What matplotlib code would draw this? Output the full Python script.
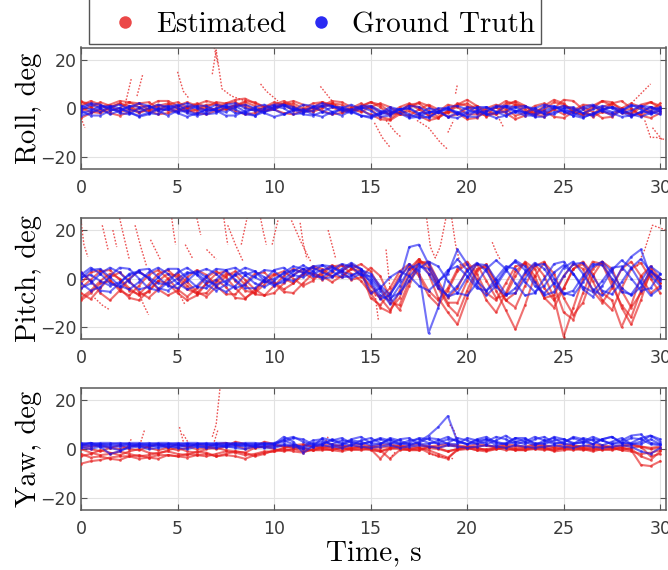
import numpy as np
import matplotlib
matplotlib.use("Agg")
import matplotlib.pyplot as plt
from matplotlib.lines import Line2D
from matplotlib.font_manager import FontProperties

# ---------------- data (degrees), sampled every 0.5 s from 0 to 30 s ----------------
SAMPLE_DT = 0.5

roll_gt = [
    [-0.5, 1.5, 0.0, -2.5, -1.0, 1.0, 0.5, -2.0, -2.5, 0.5,
     1.5, -1.0, -2.5, -0.5, 1.5, 0.5, -2.0, -2.0, 0.5, 1.5,
     -0.5, -2.5, -1.0, 1.5, 1.0, -1.5, -2.5, 0.0, 1.5, -0.5,
     -3.0, -2.0, 0.5, -0.5, -3.5, -2.5, 0.0, -1.0, -3.5, -2.0,
     0.5, 0.0, -2.5, -2.0, 1.0, 0.5, -2.0, -2.5, 0.5, 1.0,
     -1.5, -3.0, -0.5, 1.0, -1.0, -3.0, -1.0, 1.5, -0.5, -2.5, -1.0],
    [-2.0, -1.0, 1.0, 0.5, -2.0, -2.5, 0.0, 1.0, -1.0, -3.0,
     -1.0, 1.0, 0.0, -2.5, -2.0, 0.5, 1.0, -1.5, -3.0, -0.5,
     1.0, 0.0, -2.5, -2.0, 0.5, 1.0, -1.5, -3.0, -1.0, 0.5,
     -1.0, -3.5, -3.0, -0.5, 0.0, -2.5, -4.0, -1.5, 0.0, -2.0,
     -3.5, -1.0, 0.5, -1.5, -3.0, -1.5, 0.5, 0.0, -2.5, -2.5,
     0.0, 0.5, -2.0, -3.0, -0.5, 0.5, -1.5, -3.5, -1.5, 0.5, -0.5],
    [1.0, -0.5, -1.5, 0.5, 1.5, -0.5, -1.5, 0.0, 1.5, 0.5,
     -1.5, -1.0, 1.0, 1.0, -1.0, -1.5, 0.5, 1.5, 0.0, -1.5,
     -0.5, 1.5, 0.5, -1.5, -1.0, 1.0, 1.0, -1.0, -2.0, 0.0,
     0.5, -2.0, -2.5, -0.5, 0.0, -2.0, -2.0, 0.0, 0.0, -2.5,
     -1.5, 0.5, 0.5, -1.5, -1.5, 0.5, 1.0, -1.0, -2.0, 0.0,
     1.0, -0.5, -2.0, -0.5, 1.0, 0.0, -2.0, -1.0, 1.0, 0.5, -1.5],
    [-3.0, -2.0, 0.0, 1.0, 0.0, -2.0, -3.0, -2.0, 0.0, 1.0,
     0.0, -2.0, -3.0, -2.0, 0.0, 1.0, -0.5, -2.5, -3.0, -1.5,
     0.5, 1.0, -0.5, -2.5, -3.0, -1.5, 0.5, 0.5, -1.0, -3.0,
     -3.5, -2.0, -0.5, -0.5, -2.5, -4.0, -3.5, -1.5, -0.5, -1.5,
     -3.5, -3.5, -1.5, 0.5, 0.5, -1.5, -3.0, -3.0, -1.0, 0.5,
     0.0, -2.0, -3.5, -2.5, -0.5, 0.5, -0.5, -2.5, -3.5, -2.0, 0.0],
    [0.5, 2.0, 1.5, -0.5, -1.0, 0.5, 2.0, 1.0, -0.5, -0.5,
     1.0, 2.0, 0.5, -1.0, -0.5, 1.5, 2.0, 0.0, -1.0, 0.0,
     1.5, 1.5, -0.5, -1.0, 0.5, 2.0, 1.0, -0.5, -0.5, 1.0,
     1.0, -1.0, -2.0, -0.5, 1.0, 0.5, -1.5, -1.5, 0.5, 1.0,
     -0.5, -2.0, -1.0, 1.0, 1.0, -1.0, -2.0, 0.0, 1.5, 0.5,
     -1.0, -1.5, 0.5, 1.5, 0.0, -1.5, -1.0, 1.0, 1.0, -1.0, 0.5],
    [-1.0, -3.0, -3.0, -1.0, 0.0, -1.5, -3.5, -2.5, -0.5, -0.5,
     -2.0, -3.5, -2.0, -0.5, -1.0, -3.0, -3.0, -1.0, -0.5, -2.0,
     -3.5, -2.5, -0.5, -0.5, -2.5, -3.5, -1.5, -0.5, -1.5, -3.0,
     -4.0, -2.5, -1.0, -2.0, -4.0, -3.5, -1.5, -1.5, -3.5, -4.0,
     -2.0, -1.0, -2.5, -4.0, -3.0, -1.0, -1.5, -3.5, -3.5, -1.5,
     -1.0, -3.0, -4.0, -2.0, -1.0, -2.0, -3.5, -3.0, -1.5, -1.5, -2.5],
]

roll_est = [
    [1.0, 3.0, 1.5, -1.0, 0.0, 2.5, 2.0, -0.5, -1.0, 1.5,
     2.5, 0.5, -1.0, 0.5, 2.5, 2.0, 3.5, 4.0, 2.0, 0.5,
     1.5, 3.0, 1.0, -1.0, 0.5, 2.5, 1.5, -0.5, -1.0, 1.0,
     2.5, 0.5, -3.0, -1.5, 1.5, 2.0, -1.0, -3.5, -1.0, 2.0,
     1.0, -2.0, -3.0, 0.5, 3.0, 1.5, -1.5, -2.0, 1.0, 3.5,
     2.0, -1.5, -3.0, 0.0, 3.0, 2.5, -1.0, -2.5, 0.5, 2.5, 1.0],
    [-1.0, 0.5, 2.5, 1.0, -1.5, -0.5, 2.0, 2.5, 0.0, -1.0,
     1.0, 2.5, 1.0, -1.0, 0.0, 2.0, 2.5, 0.5, -1.0, 0.5,
     2.5, 1.5, -1.0, -0.5, 2.0, 2.5, 0.5, -1.5, 0.0, 2.0,
     -0.5, -3.5, -4.5, -1.5, 1.5, 0.5, -3.0, -4.0, -1.0, 1.5,
     3.5, 1.0, -2.5, -2.5, 1.0, 3.0, 1.0, -2.5, -3.5, 0.0,
     3.5, 3.0, -0.5, -3.5, -1.5, 2.0, 3.0, 0.0, -3.0, -1.0, 2.0],
    [2.5, 2.0, 0.5, 1.5, 3.0, 2.5, 0.5, 1.0, 3.0, 3.0,
     1.0, 0.0, 1.5, 3.0, 2.0, 0.5, 1.0, 3.0, 2.5, 0.5,
     0.0, 2.0, 3.0, 1.5, 0.0, 1.0, 3.0, 2.5, 0.5, 0.5,
     2.5, 1.5, -1.5, -2.5, 0.0, 2.5, 1.0, -2.0, -2.0, 1.0,
     2.0, -0.5, -3.5, -1.5, 2.0, 2.5, -0.5, -3.0, -0.5, 2.5,
     1.5, -1.5, -2.5, 1.0, 3.0, 1.0, -2.0, -2.0, 1.5, 2.5, 0.0],
    [-4.0, -2.0, -0.5, -2.0, -3.0, -1.5, 0.0, -1.0, -2.5, -2.0,
     -0.5, -0.5, -2.0, -2.5, -1.0, 0.0, -1.0, -2.5, -2.0, -0.5,
     -0.5, -2.0, -2.5, -1.0, 0.0, -1.0, -2.5, -2.0, -0.5, -1.0,
     -2.5, -4.5, -5.0, -2.5, -1.0, -3.0, -5.0, -4.0, -1.5, -2.0,
     -4.5, -4.0, -1.0, 0.5, -2.0, -4.5, -3.0, -0.5, -1.0, -3.5,
     -4.0, -1.5, 0.5, -1.5, -4.0, -3.5, -0.5, -0.5, -3.0, -4.0, -2.0],
    [0.0, -1.5, -2.0, 0.0, 2.0, 1.0, -1.5, -1.0, 1.0, 2.0,
     0.0, -1.5, -0.5, 1.5, 1.5, -0.5, 0.5, 2.5, 1.0, -1.0,
     -0.5, 1.5, 2.0, 0.0, -1.5, 0.0, 2.0, 1.5, -0.5, -1.5,
     0.5, 2.0, 0.5, -2.5, -3.0, -0.5, 1.5, -0.5, -3.5, -2.5,
     0.0, 1.0, -1.0, -2.5, -1.0, 1.5, 1.0, -1.5, -2.5, -0.5,
     1.0, 0.0, -2.5, -2.5, 0.5, 2.0, 0.0, -3.0, -2.0, 0.5, -0.5],
    [3.0, 0.5, -1.5, 0.5, 2.0, 0.0, -2.0, 0.0, 1.5, 0.0,
     -1.5, 0.5, 2.0, 0.5, -1.0, -0.5, 1.5, 1.5, -0.5, -1.5,
     0.5, 2.0, 0.5, -1.5, -1.0, 1.0, 2.0, 0.0, -1.0, 0.0,
     1.0, -1.5, -2.5, 0.5, 2.0, -0.5, -3.0, -1.5, 1.5, 0.5,
     -2.5, -2.5, 0.0, 1.5, -0.5, -3.0, -2.0, 1.0, 2.0, -0.5,
     -2.5, -1.0, 1.5, 1.0, -1.5, -2.5, 0.0, 2.0, 0.5, -2.0, -1.0],
]

# short estimator excursions: (times, values)
roll_est_spikes = [
    ([0.0, 0.2], [-4, -8]),
    ([2.3, 2.6], [2, 12]),
    ([2.9, 3.2], [5, 14]),
    ([5.0, 5.3, 5.6], [15, 7, 4]),
    ([6.8, 7.0, 7.3, 7.8, 8.5], [14, 24, 8, 5, 3]),
    ([6.9, 7.1], [25, 18]),
    ([9.3, 9.6, 10.2], [10, 7, 3]),
    ([12.4, 12.8, 13.2], [9, 5, 1]),
    ([15.2, 15.6, 16.0], [-6, -12, -16]),
    ([15.8, 16.3, 16.6], [-5, -10, -12]),
    ([17.4, 18.0, 18.6, 19.0], [-5, -8, -14, -17]),
    ([19.0, 19.3], [-10, -5]),
    ([19.4, 19.5], [6, 10]),
    ([21.5, 21.9], [-2, -8]),
    ([28.5, 29.0, 29.5], [2, 6, 10]),
    ([29.2, 29.5, 29.8, 30.3], [-5, -12, -12, -13]),
    ([29.6, 30.1], [-8, -13]),
]

pitch_gt = [
    [0.0, 3.5, 4.0, 0.5, -3.0, -4.5, -1.5, 2.5, 4.5, 2.0,
     -2.0, -4.5, -3.0, 1.0, 4.0, 3.5, -0.5, -4.0, -4.0, -0.5,
     3.5, 4.5, 1.5, 0.5, 3.0, 5.5, 5.0, 2.0, 0.0, 2.0,
     -1.0, -7.0, -9.0, -3.0, 4.0, 6.0, 2.0, -4.0, -7.0, -3.0,
     3.0, 6.5, 3.0, -3.5, -7.0, -4.0, 2.5, 6.5, 4.0, -2.0,
     -6.5, -5.0, 1.0, 6.0, 5.5, 0.0, -5.5, -6.5, -1.0, 5.0, 2.0],
    [-4.0, -2.0, 2.0, 4.5, 2.5, -1.5, -4.5, -3.5, 0.5, 4.0,
     4.0, 0.0, -3.5, -4.0, -0.5, 3.5, 4.5, 1.5, -2.0, -3.5,
     -1.0, 2.5, 5.0, 4.0, 1.0, 0.5, 3.5, 6.0, 5.0, 1.5,
     1.0, -4.0, -8.0, -6.0, -1.0, 4.0, 7.0, 5.0, -1.0, -6.0,
     -7.0, -2.0, 4.0, 7.5, 4.0, -2.0, -7.0, -6.0, 0.0, 6.0,
     7.0, 2.0, -4.5, -7.5, -3.0, 3.5, 7.5, 4.5, -2.0, -7.0, -4.0],
    [2.5, -1.0, -5.0, -5.5, -2.0, 2.0, 3.0, 0.0, -4.0, -5.0,
     -2.0, 2.0, 3.0, 0.5, -3.5, -5.5, -3.0, 1.5, 3.0, 0.5,
     -2.5, -1.5, 1.5, 4.0, 4.5, 2.5, 1.0, 3.0, 5.5, 4.0,
     0.0, -5.0, -10.5, -6.0, 1.0, 5.0, 4.0, -2.5, -7.5, -6.0,
     0.5, 6.0, 5.5, -0.5, -6.5, -6.0, 0.0, 5.5, 6.0, 0.0,
     -6.0, -7.0, -1.5, 5.0, 7.0, 2.5, -4.0, -7.0, -3.5, 3.0, -1.0],
    [1.5, 4.5, 2.0, -2.0, -3.5, -0.5, 3.5, 4.0, 0.5, -3.0,
     -4.0, -1.0, 2.5, 4.0, 2.0, -2.0, -4.0, -2.5, 1.0, 3.5,
     3.0, 0.0, -1.0, 2.0, 5.0, 5.5, 3.0, 0.5, 1.0, 3.5,
     2.0, -3.0, -6.5, -1.0, 13.0, 14.0, 6.0, -1.0, 2.0, 12.0,
     6.0, -1.0, -5.0, -2.0, 4.0, 7.0, 3.5, -3.0, -6.0, -2.0,
     4.5, 7.0, 2.0, -4.5, -7.0, -3.0, 4.0, 9.0, 12.0, 1.0, -3.0],
    [-2.0, -5.0, -3.5, 1.0, 4.5, 4.0, 0.0, -4.0, -5.0, -1.5,
     2.5, 4.5, 1.5, -2.5, -5.0, -2.5, 2.0, 4.5, 3.0, -1.0,
     -3.0, -0.5, 3.0, 5.5, 3.0, 0.0, 0.5, 4.0, 6.5, 4.0,
     -2.0, -8.5, -7.0, 0.0, 6.0, 3.0, -22.5, -12.0, 3.0, 8.0,
     3.5, -3.0, -7.0, -3.0, 3.0, 7.5, 5.0, -1.5, -7.0, -5.5,
     1.0, 6.0, 6.5, 1.0, -5.0, -6.5, -1.5, 4.5, 8.0, 3.0, 0.0],
    [0.5, 1.5, -1.0, -3.0, -1.5, 1.5, 2.5, 0.5, -2.0, -2.5,
     0.0, 2.5, 2.0, -1.0, -2.5, -1.0, 1.5, 2.5, 0.5, -1.5,
     0.0, 2.0, 3.5, 2.5, 2.0, 3.5, 4.5, 3.0, 1.5, 2.5,
     -6.0, -4.0, 0.5, 3.0, 1.0, -3.0, -5.0, -1.5, 3.5, 5.0,
     1.0, -4.0, -5.0, 0.0, 5.0, 4.0, -1.5, -5.5, -3.0, 2.5,
     5.5, 2.0, -3.5, -5.5, -1.0, 4.5, 5.0, 0.0, -5.0, -4.0, 2.0],
]

pitch_est = [
    [-8.0, -5.0, -1.0, 2.0, 0.0, -4.0, -7.0, -5.5, -1.0, 2.0,
     1.0, -3.0, -6.5, -6.0, -1.5, 2.0, 1.5, -2.5, -6.5, -7.0,
     -3.0, 1.0, 4.0, 2.5, 0.0, 2.0, 5.0, 5.5, 2.0, -1.0,
     -6.0, -12.0, -14.0, -5.0, 4.0, 8.0, 2.0, -8.0, -14.0, -19.0,
     -8.0, 3.0, 6.0, -2.0, -9.0, -12.0, -3.0, 5.0, 7.0, -3.0,
     -14.0, -17.0, -6.0, 4.0, 7.0, -1.0, -12.0, -19.0, -9.0, 3.0, 0.0],
    [-2.0, 2.5, 3.5, -0.5, -5.0, -7.0, -3.0, 1.5, 3.5, 0.0,
     -4.5, -7.5, -4.0, 0.5, 3.0, 0.5, -4.0, -8.0, -5.5, -0.5,
     2.0, 0.0, -2.0, 1.5, 4.5, 3.0, 0.5, 3.0, 6.0, 3.5,
     -5.0, -8.0, -4.0, 3.0, 6.0, 1.0, -7.0, -11.0, -5.0, 3.0,
     6.0, 0.0, -9.0, -14.0, -6.0, 3.0, 6.5, 1.0, -8.0, -12.0,
     -4.0, 4.0, 6.0, -1.0, -9.0, -13.0, -4.0, 4.0, 6.5, 0.0, -6.0],
    [2.5, -1.0, -6.0, -9.0, -5.0, 0.0, 3.0, 0.0, -4.5, -7.0,
     -5.0, 0.5, 3.5, 1.5, -3.0, -6.5, -6.5, -2.0, 2.0, 2.5,
     -1.5, -4.5, -2.0, 2.0, 5.0, 4.0, 1.0, 0.5, 4.0, 6.0,
     3.0, -4.0, -10.0, -11.0, -1.0, 7.0, 6.0, -3.0, -10.0, -10.0,
     -1.0, 6.0, 4.0, -5.0, -13.0, -21.0, -11.0, 1.0, 6.5, 2.0,
     -8.0, -15.0, -10.0, 1.0, 7.0, 4.0, -5.0, -12.0, -6.0, 2.0, -2.0],
    [-6.0, -8.5, -4.0, 0.5, 2.5, -1.0, -5.5, -8.0, -4.5, 0.0,
     2.0, -1.5, -5.5, -7.5, -3.5, 1.0, 3.0, -0.5, -4.5, -7.0,
     -6.0, -2.0, 1.5, 4.0, 2.0, -0.5, 2.5, 5.5, 4.5, 1.0,
     -3.0, -8.0, -13.0, -8.0, 2.0, 8.0, 4.5, -4.0, -11.0, -15.0,
     -5.0, 4.0, 5.0, -2.0, -9.0, -6.0, 2.0, 6.0, 1.0, -8.0,
     -24.0, -12.0, 0.0, 7.0, 6.0, -3.0, -11.0, -16.0, -5.0, 4.0, -2.0],
    [-4.0, -0.5, 3.0, 3.5, -0.5, -5.0, -6.5, -2.5, 2.0, 3.5,
     0.0, -4.5, -6.0, -2.0, 2.0, 3.0, -1.0, -5.0, -6.0, -2.5,
     1.5, 3.0, 0.0, -3.0, -1.0, 3.0, 5.5, 3.0, -0.5, 0.5,
     4.5, 1.0, -8.0, -13.0, -3.0, 6.5, 7.0, -1.0, -8.0, -4.0,
     4.0, 6.0, -1.0, -8.0, -7.0, 1.0, 7.0, 4.0, -4.0, -9.0,
     -4.0, 4.0, 7.0, 2.0, -6.0, -9.0, -20.0, -11.0, 1.0, 5.0, 0.0],
    [-9.0, -6.0, -2.0, -1.0, -4.0, -8.0, -9.0, -5.0, -1.0, -2.0,
     -6.0, -9.0, -7.0, -2.0, -0.5, -3.5, -8.0, -8.5, -4.5, -1.0,
     -2.0, -5.5, -6.0, -2.0, 2.0, 1.0, -1.5, 1.0, 4.0, 3.0,
     -8.0, -11.0, -6.0, 1.0, 5.0, 2.0, -5.0, -9.0, -4.0, 4.0,
     7.0, 2.0, -6.0, -9.0, -2.0, 5.0, 6.0, -1.0, -8.0, -7.0,
     1.0, 6.0, 4.0, -5.0, -10.0, -4.0, 4.0, 7.0, 1.0, -6.0, -3.0],
]

pitch_est_spikes = [
    ([0.0, 0.15, 0.35], [24, 14, 9]),
    ([0.7, 1.1, 1.5], [-8, -11, -13]),
    ([1.1, 1.4], [22, 12]),
    ([1.65, 1.85], [20, 13]),
    ([2.0, 2.2, 2.5], [25, 18, 8]),
    ([2.8, 3.1, 3.4], [22, 13, 5]),
    ([3.0, 3.25, 3.5], [-6, -11, -15]),
    ([3.6, 3.85, 4.1], [16, 12, 8]),
    ([4.7, 4.8, 4.9], [25, 19, 14]),
    ([5.0, 5.2, 5.4], [-5, -8, -11]),
    ([5.4, 5.6, 5.8], [14, 11, 8]),
    ([6.0, 6.2], [25, 18]),
    ([6.5, 6.75, 7.0], [12, 10, 8]),
    ([7.4, 7.5, 7.6], [25, 19, 14]),
    ([7.6, 8.0, 8.4], [22, 14, 7]),
    ([8.3, 8.6], [14, 25]),
    ([9.3, 9.45, 9.6], [25, 19, 14]),
    ([9.9, 10.2], [14, 24]),
    ([10.9, 11.4, 11.9], [24, 15, 7]),
    ([11.35, 11.5, 11.7], [23, 15, 8]),
    ([12.8, 13.0, 13.2], [20, 14, 8]),
    ([15.2, 15.3, 15.4], [-4, -11, -17]),
    ([15.8, 15.9, 16.0], [12, 4, -4]),
    ([17.9, 18.1, 18.35, 18.6, 18.9], [25, 13, 8.5, 13, 25]),
    ([19.2, 19.4, 19.7], [25, 14, 4]),
    ([21.3, 21.5, 21.7], [15, 11, 8]),
    ([28.8, 29.2, 29.6, 30.3], [5, 12, 22, 20]),
]

yaw_gt = [
    [1.5, 1.5, 2.0, 1.5, 1.5, 2.0, 1.5, 1.5, 2.0, 1.5,
     1.5, 2.0, 1.5, 1.5, 2.0, 1.5, 1.5, 2.0, 1.5, 1.5,
     1.5, 4.0, 5.0, 3.0, 1.5, 2.0, 4.0, 2.5, 1.5, 3.5,
     4.5, 2.5, 2.0, 4.0, 4.5, 2.0, 2.0, 3.5, 5.0, 3.0,
     2.0, 4.0, 5.0, 2.5, 2.0, 4.5, 4.5, 2.0, 2.5, 5.0,
     4.0, 2.0, 3.0, 5.0, 3.5, 2.0, 3.5, 5.5, 6.0, 2.5, 2.0],
    [2.0, 2.5, 2.0, 2.0, 2.5, 2.0, 2.0, 2.5, 2.0, 2.0,
     2.5, 2.0, 2.0, 2.5, 2.0, 2.0, 2.5, 2.0, 2.0, 2.5,
     2.0, 5.0, 3.0, -1.5, 1.0, 4.5, 3.5, 2.0, 4.0, 5.0,
     2.5, 2.0, 4.5, 3.5, 2.0, 2.5, 4.5, 4.0, 2.0, 2.0,
     4.5, 3.5, 2.0, 3.5, 5.5, 3.0, 2.0, 4.0, 5.0, 2.5,
     2.5, 5.0, 4.0, 2.0, 4.0, 5.0, 2.5, 2.5, 4.5, 5.5, 3.0],
    [1.0, 1.0, 1.5, 1.0, 1.0, 1.5, 1.0, 1.0, 1.5, 1.0,
     1.0, 1.5, 1.0, 1.0, 1.5, 1.0, 1.0, 1.5, 1.0, 1.0,
     1.0, 2.0, 1.5, 1.0, 3.5, 4.0, 1.5, 1.5, 3.5, 3.0,
     1.5, 2.0, 4.0, 2.5, 1.5, 3.0, 5.5, 9.0, 13.5, 3.0,
     2.0, 3.5, 4.0, 1.5, 2.5, 4.5, 3.0, 1.5, 3.5, 4.5,
     2.0, 2.0, 4.5, 3.5, 1.5, 3.0, 4.5, 2.0, 2.0, 4.0, 2.0],
    [2.5, 2.0, 2.5, 2.5, 2.0, 2.5, 2.5, 2.0, 2.5, 2.5,
     2.0, 2.5, 2.5, 2.0, 2.5, 2.5, 2.0, 2.5, 2.5, 2.0,
     2.5, 3.5, 2.0, 0.5, 2.5, 3.0, 2.0, 3.5, 3.0, 2.0,
     3.0, 4.0, 2.5, 2.0, 3.5, 4.0, 2.5, 2.5, 4.0, 3.5,
     2.0, 2.5, 4.0, 3.0, 2.0, 3.0, 4.0, 2.5, 2.0, 3.5,
     4.0, 2.5, 2.5, 4.0, 3.5, 2.0, 2.5, 4.5, 4.0, 2.0, 1.5],
    [0.5, 0.0, 1.0, 0.5, -0.5, 0.5, 1.0, 0.0, 0.5, 1.0,
     0.5, 0.0, 1.0, 0.5, 0.5, 1.0, 0.5, 0.0, 1.0, 0.5,
     0.5, 1.5, 1.0, 0.0, 1.0, 1.5, 1.0, 0.5, 1.5, 1.0,
     0.5, 1.0, 1.5, 0.5, 1.0, 1.5, 1.0, 0.5, 1.5, 1.0,
     0.5, 1.0, 1.5, 1.0, 0.5, 1.5, 1.0, 0.5, 1.0, 1.5,
     1.0, 0.5, 1.5, 1.0, 0.5, 1.0, 1.5, 1.0, -1.0, -2.0, 0.5],
    [1.5, 2.5, 1.0, -2.0, -1.0, 1.0, 2.0, 1.5, 1.0, 2.0,
     1.5, 1.0, 2.0, 2.0, 1.0, 1.5, 2.0, 1.0, 1.5, 2.0,
     2.0, 3.0, 4.5, 4.0, 2.0, 2.0, 3.5, 4.5, 2.5, 2.0,
     3.0, 4.5, 3.5, 2.0, 2.5, 4.5, 4.0, 2.0, 2.5, 4.5,
     3.5, 2.0, 3.0, 5.0, 4.0, 2.0, 3.0, 5.0, 3.5, 2.0,
     3.0, 4.5, 3.0, 2.0, 4.0, 5.0, 2.5, 2.0, 3.0, 5.5, 4.0],
]

yaw_est = [
    [-6.0, -5.0, -4.5, -3.5, -3.0, -3.0, -4.0, -3.5, -2.5, -2.5,
     -3.0, -2.0, -2.5, -3.0, -2.0, -1.0, -1.5, -2.5, -2.0, -1.0,
     -1.0, -0.5, 0.0, -1.0, -0.5, 0.0, -0.5, 0.5, 0.0, -0.5,
     0.0, -4.0, 0.5, 0.0, -0.5, 0.5, -1.5, -3.0, -4.0, 0.0,
     0.5, -0.5, 0.0, 0.5, -0.5, 0.0, 0.5, 0.0, -0.5, 0.5,
     0.0, -0.5, 0.5, 0.0, -0.5, 0.0, 0.5, -0.5, -6.5, -7.0, -5.0],
    [-2.0, -3.5, -3.0, -4.0, -4.5, -3.0, -2.5, -3.5, -4.0, -2.5,
     -3.0, -3.5, -2.5, -2.0, -3.0, -2.5, -3.0, -4.0, -2.5, -1.5,
     -1.0, 0.5, 1.0, 0.0, -0.5, 1.0, 0.5, -0.5, 0.5, 1.0,
     0.0, -1.0, 0.5, 1.0, 0.0, -0.5, 1.0, 0.5, -1.0, 0.0,
     1.0, 0.5, -0.5, 0.5, 1.5, 0.0, -0.5, 1.0, 0.5, -0.5,
     0.5, 1.0, 0.0, -0.5, 1.0, 0.5, -0.5, 0.5, 1.0, -3.0, -2.0],
    [1.0, 0.0, -1.0, 0.5, 1.5, 0.0, -0.5, 1.0, 2.0, 0.5,
     -0.5, 0.5, 2.0, 1.0, 0.0, 1.0, 3.0, 2.0, 0.5, 1.0,
     1.5, 1.0, 0.5, 1.5, 1.0, 0.5, 1.0, 1.5, 0.5, 1.0,
     1.0, 0.5, 1.0, 1.5, 0.5, 1.0, 1.0, 0.5, 1.5, 1.0,
     0.5, 1.0, 1.5, 0.5, 1.0, 1.0, 0.5, 1.5, 1.0, 0.5,
     1.0, 1.5, 0.5, 1.0, 1.0, 0.5, 1.0, 1.5, 1.0, 0.0, 0.5],
    [-3.0, -2.0, -0.5, -1.5, -2.5, -1.0, 0.0, -1.5, -2.0, -0.5,
     0.5, -1.0, -1.5, 0.0, 0.5, -0.5, -1.0, -1.5, 0.5, 1.0,
     0.0, -1.0, 0.0, 0.5, -0.5, -0.5, 0.0, 0.5, -0.5, 0.0,
     0.5, -0.5, -4.0, -0.5, 0.0, 0.5, -0.5, -2.0, -3.5, -0.5,
     0.0, 0.5, -0.5, 0.0, 0.5, -0.5, 0.0, 0.5, 0.0, -0.5,
     0.5, 0.0, -0.5, 0.5, 0.0, -0.5, 0.5, 0.0, -3.0, -4.5, -1.0],
    [0.0, -1.5, -2.5, -2.0, -1.0, -2.0, -3.0, -2.5, -1.5, -1.0,
     -2.0, -2.5, -1.0, -1.5, -3.0, -2.0, -1.0, -1.5, -3.0, -2.0,
     -0.5, 0.0, -1.0, -1.5, 0.0, 0.5, -0.5, -1.0, 0.0, 0.5,
     -0.5, -1.0, 0.0, 0.5, -0.5, -0.5, 0.5, 0.0, -1.0, 0.0,
     0.5, -0.5, -1.0, 0.0, 0.5, -0.5, -0.5, 0.0, 0.5, -1.0,
     -0.5, 0.5, 0.0, -1.0, 0.0, 0.5, -0.5, -1.0, -2.0, -1.5, -0.5],
    [2.0, 1.0, 1.5, 0.5, 0.0, 1.0, 1.5, 0.5, -0.5, 0.5,
     2.0, 1.0, 0.0, 0.5, 2.0, 2.5, 1.5, 0.0, 1.0, 3.0,
     2.0, 1.0, 1.5, 2.0, 1.0, 1.5, 2.0, 1.0, 1.5, 2.0,
     1.0, 1.5, 2.0, 1.0, 1.5, 2.0, 1.0, 1.5, 2.0, 1.5,
     1.0, 2.0, 1.5, 1.0, 2.0, 1.5, 1.0, 2.0, 1.5, 1.0,
     2.0, 1.5, 1.0, 2.0, 1.5, 1.0, 1.5, 2.0, 1.0, 0.5, 1.0],
]

yaw_est_spikes = [
    ([2.4, 2.6], [1, 4]),
    ([3.1, 3.3], [3, 8]),
    ([5.1, 5.3], [9, 3]),
    ([5.3, 5.6], [6, 2]),
    ([6.8, 7.0, 7.2], [5, 10, 25]),
    ([6.9, 7.1], [3, 8]),
    ([12.6, 12.8], [2, 5]),
    ([16.0, 16.3], [-4, -1]),
    ([18.0, 18.6, 19.3], [-2, -3, -4]),
    ([19.1, 19.3, 19.5], [10, 8, 3]),
]

panel_labels = ["Roll, deg", "Pitch, deg", "Yaw, deg"]
legend_labels = ["Estimated", "Ground Truth"]
x_ticks = [0, 5, 10, 15, 20, 25, 30]
y_ticks = [-20, 0, 20]

# ---------------- styling ----------------
RED = (0.90, 0.10, 0.10)
BLUE = (0.08, 0.08, 0.95)
SERIF = "cmr10"

W, H = 668, 570
fig = plt.figure(figsize=(W / 100, H / 100), dpi=100)

# axes boxes (left, top, right, bottom) in pixels
boxes = [(81, 47.5, 666, 169), (81, 218, 666, 339), (81, 388, 666, 510)]

panels = [
    (roll_est, roll_gt, roll_est_spikes),
    (pitch_est, pitch_gt, pitch_est_spikes),
    (yaw_est, yaw_gt, yaw_est_spikes),
]

n = len(roll_gt[0])
t = np.arange(n) * SAMPLE_DT

for i, ((est, gt, spikes), box) in enumerate(zip(panels, boxes)):
    l, tp, r, b = box
    ax = fig.add_axes([l / W, 1 - b / H, (r - l) / W, (b - tp) / H])
    for tr in spikes:
        ax.plot(tr[0], tr[1], color=RED, lw=1.0, ls=(0, (1.2, 1.2)), alpha=0.75, zorder=2)
    for y in est:
        ax.plot(t, y, color=RED, lw=1.5, alpha=0.62, marker="o", ms=2.0, mew=0, zorder=3)
    for y in gt:
        ax.plot(t, y, color=BLUE, lw=1.5, alpha=0.6, marker="o", ms=2.0, mew=0, zorder=4)

    ax.set_xlim(0, 30.3)
    ax.set_ylim(-25, 25)
    ax.set_xticks(x_ticks)
    ax.set_yticks(y_ticks)
    ax.grid(True, color="#e2e2e2", lw=0.8, zorder=0)
    ax.set_axisbelow(True)
    ax.tick_params(direction="in", length=4, width=0.8, color="#555555",
                   top=True, right=True, labelsize=12.5, labelcolor="#3a3a3a")
    ax.tick_params(axis="x", pad=7)
    ax.tick_params(axis="y", pad=3)
    for s in ax.spines.values():
        s.set_color("#5a5a5a")
        s.set_linewidth(1.1)
    ax.set_ylabel(panel_labels[i], fontfamily=SERIF, fontsize=20.5)
    ax.yaxis.set_label_coords(-0.067, 0.5)
    if i == 2:
        ax.set_xlabel("Time, s", fontfamily=SERIF, fontsize=21)
        ax.xaxis.label.set_va("baseline")
        ax.xaxis.set_label_coords(0.5, -(560 - 510) / (510 - 388))

handles = [
    Line2D([], [], ls="none", marker="o", ms=9, mew=0, color=RED, alpha=0.8),
    Line2D([], [], ls="none", marker="o", ms=9, mew=0, color=BLUE, alpha=0.9),
]
leg = fig.legend(handles, legend_labels, loc="lower left",
                 bbox_to_anchor=(89 / W, 1 - 44 / H), ncol=2, frameon=True,
                 fancybox=False, edgecolor="#555555", framealpha=1,
                 prop=FontProperties(family=SERIF, size=21),
                 borderpad=0.2, borderaxespad=0.0, handlelength=2.1,
                 handletextpad=0.0, columnspacing=0.15,
                 title="x", title_fontsize=14)
leg.get_title().set_color("none")
leg.get_frame().set_linewidth(1.0)

fig.savefig("out.png", dpi=100)
